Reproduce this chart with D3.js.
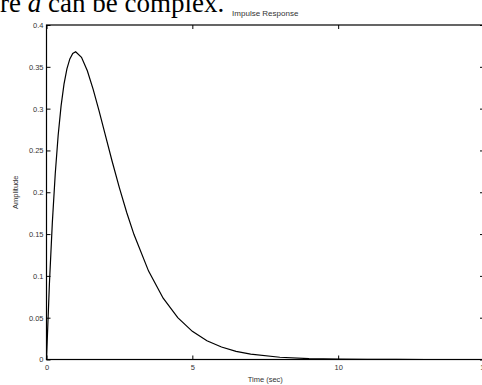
<!DOCTYPE html>
<html>
<head>
<meta charset="utf-8">
<script src="https://cdn.jsdelivr.net/npm/d3@7"></script>
<style>
html,body{margin:0;padding:0;background:#fff;}
svg{display:block;}
</style>
</head>
<body>
<svg id="chart" width="482" height="385"></svg>
<script>
// Data
const timeValues = [0,0.1,0.2,0.3,0.4,0.5,0.6,0.7,0.8,0.9,1.0,1.2,1.4,1.6,1.8,2.0,2.25,2.5,2.75,3.0,3.5,4.0,4.5,5.0,5.5,6.0,6.5,7.0,8.0,9.0,10,11,12,13,14,15];
const amplitudeValues = [0,0.0905,0.1637,0.2222,0.2681,0.3033,0.3293,0.3476,0.3595,0.3659,0.3679,0.3614,0.3452,0.3230,0.2975,0.2707,0.2371,0.2052,0.1758,0.1494,0.1057,0.0733,0.0500,0.0337,0.0225,0.0149,0.0098,0.0064,0.0027,0.0011,0.0005,0.0002,0.0001,0.00003,0.00001,0];
const xTicks = [0,5,10,15];
const yTicks = [0,0.05,0.1,0.15,0.2,0.25,0.3,0.35,0.4];
const titleText = "Impulse Response";
const xLabelText = "Time (sec)";
const yLabelText = "Amplitude";

const svg = d3.select("#chart");
const L = 46.5, R = 484, T = 25, B = 359.5;

const x = d3.scaleLinear().domain([0,15]).range([L,R]);
const y = d3.scaleLinear().domain([0,0.4]).range([B,T]);

// page text above the figure (scanned document, cut at the top edge)
const pageText = svg.append("text")
  .attr("x", -45).attr("y", 11.5)
  .attr("font-family", "'Liberation Serif','DejaVu Serif',serif")
  .attr("font-size", 27)
  .attr("fill", "#000");
pageText.append("tspan").text("where ");
pageText.append("tspan").attr("font-style","italic").text("a");
pageText.append("tspan").text(" can be complex.");

const tickFont = "'Liberation Sans',Arial,Helvetica,sans-serif";
const tickColor = "#333";

// box
svg.append("rect").attr("x", L).attr("y", T).attr("width", R-L).attr("height", B-T)
  .attr("fill","none").attr("stroke","#000").attr("stroke-width",1.2);

// bottom axis
const xAxisB = d3.axisBottom(x).tickValues(xTicks).tickSize(-4).tickPadding(6).tickFormat(d3.format("d"));
const gxb = svg.append("g").attr("transform",`translate(0,${B})`).call(xAxisB);
// top axis ticks
const xAxisT = d3.axisTop(x).tickValues(xTicks).tickSize(-4).tickFormat("");
const gxt = svg.append("g").attr("transform",`translate(0,${T})`).call(xAxisT);
// left axis
const yAxisL = d3.axisLeft(y).tickValues(yTicks).tickSize(-4).tickPadding(7).tickFormat(d=>d3.format("")(+d.toFixed(2)));
const gyl = svg.append("g").attr("transform",`translate(${L},0)`).call(yAxisL);
// right axis ticks
const yAxisR = d3.axisRight(y).tickValues(yTicks).tickSize(-4).tickFormat("");
const gyr = svg.append("g").attr("transform",`translate(${R},0)`).call(yAxisR);

[gxb,gxt,gyl,gyr].forEach(g=>{
  g.select(".domain").remove();
  g.selectAll(".tick line").attr("stroke","#000").attr("stroke-width",1);
  g.selectAll(".tick text").attr("font-family",tickFont).attr("font-size",7.5).attr("fill",tickColor);
});
gxb.selectAll(".tick text").attr("dy","0.71em").attr("y",5);
gyl.selectAll(".tick text").attr("x",-3);

// curve
const line = d3.line().x((d,i)=>x(timeValues[i])).y(d=>y(d)).curve(d3.curveLinear);
svg.append("path").datum(amplitudeValues).attr("d",line)
  .attr("fill","none").attr("stroke","#000").attr("stroke-width",1.2);

// labels
svg.append("text").attr("x",(L+R)/2).attr("y",16).attr("text-anchor","middle")
  .attr("font-family",tickFont).attr("font-size",8).attr("fill",tickColor).text(titleText);
svg.append("text").attr("x",(L+R)/2).attr("y",382).attr("text-anchor","middle")
  .attr("font-family",tickFont).attr("font-size",7.5).attr("fill",tickColor).text(xLabelText);
svg.append("text").attr("transform",`translate(18,${(T+B)/2}) rotate(-90)`).attr("text-anchor","middle")
  .attr("font-family",tickFont).attr("font-size",7.5).attr("fill",tickColor).text(yLabelText);
</script>
</body>
</html>
